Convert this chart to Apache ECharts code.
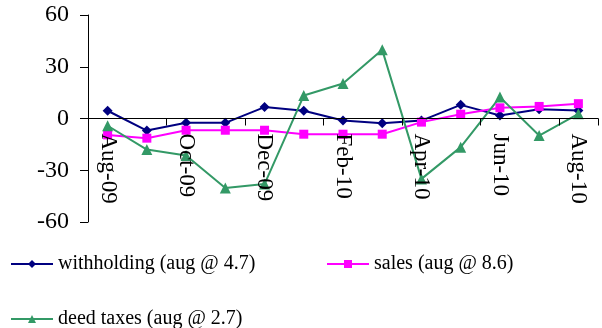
<!DOCTYPE html>
<html>
<head>
<meta charset="utf-8">
<script src="https://cdn.jsdelivr.net/npm/echarts@6/dist/echarts.min.js"></script>
<style>
  html, body { margin: 0; padding: 0; background: #fff; }
  #chart { width: 602px; height: 328px; }
</style>
</head>
<body>
<div id="chart"></div>
<script>
// Monthly year-over-year change in tax receipts
const months = ['Aug-09', 'Sep-09', 'Oct-09', 'Nov-09', 'Dec-09', 'Jan-10', 'Feb-10',
                'Mar-10', 'Apr-10', 'May-10', 'Jun-10', 'Jul-10', 'Aug-10'];
const withholding = [4.5, -7, -2.5, -2.5, 6.6, 4.5, -1.2, -2.7, -1.2, 7.9, 1.7, 5.4, 4.7];
const sales = [-9.5, -11.4, -6.8, -6.8, -6.8, -9.1, -9.1, -9.1, -2.1, 2.5, 6.2, 7.0, 8.6];
const deedTaxes = [-4.2, -18, -21.4, -40.3, -38, 13.3, 20.3, 39.8, -35, -16.6, 12.4, -9.9, 2.7];
const yTicks = { min: -60, max: 60, step: 30 };

const names = ['withholding (aug @ 4.7)', 'sales (aug @ 8.6)', 'deed taxes (aug @ 2.7)'];
const FONT = 'Liberation Serif';

// plot box in pixels; the month axis sits on the zero line
const plot = { left: 88, right: 4, top: 15, bottom: 106, height: 207 };
const zeroOffset = -plot.height * (0 - yTicks.min) / (yTicks.max - yTicks.min);

function series(name, data, color, symbol, size) {
  return {
    name: name, type: 'line', data: data,
    symbol: symbol, symbolSize: size,
    lineStyle: { color: color, width: 2 },
    itemStyle: { color: color },
    z: 2,
    animation: false
  };
}

function legendAt(name, left, top) {
  return {
    data: [name], left: left, top: top, orient: 'horizontal',
    itemWidth: 42, itemHeight: 10, itemGap: 5,
    textStyle: { fontFamily: FONT, fontSize: 20, color: '#000' }
  };
}

const chart = echarts.init(document.getElementById('chart'), null, { renderer: 'canvas' });
chart.setOption({
  backgroundColor: '#fff',
  animation: false,
  grid: { left: plot.left, right: plot.right, top: plot.top, bottom: plot.bottom, containLabel: false },
  legend: [
    legendAt(names[0], 5, 249),
    legendAt(names[1], 321, 249),
    legendAt(names[2], 5, 304)
  ],
  xAxis: {
    type: 'category', data: months, boundaryGap: true,
    position: 'bottom', offset: zeroOffset, z: 3,
    axisLine: { onZero: false, lineStyle: { color: '#000', width: 1 } },
    axisTick: { show: true, interval: 1, alignWithLabel: false, length: 7, lineStyle: { color: '#000', width: 1 } },
    axisLabel: { interval: 1, rotate: -90, margin: 15, fontFamily: FONT, fontSize: 23, color: '#000' },
    splitLine: { show: false }
  },
  yAxis: {
    type: 'value', min: yTicks.min, max: yTicks.max, interval: yTicks.step,
    axisLine: { show: true, lineStyle: { color: '#000', width: 1 } },
    axisTick: { show: true, length: 8, lineStyle: { color: '#000' } },
    axisLabel: { margin: 19, fontFamily: FONT, fontSize: 24, color: '#000' },
    splitLine: { show: false }
  },
  series: [
    series(names[0], withholding, '#000080', 'diamond', 10),
    series(names[1], sales, '#FF00FF', 'rect', 9),
    series(names[2], deedTaxes, '#339966', 'triangle', 11)
  ]
});
</script>
</body>
</html>
